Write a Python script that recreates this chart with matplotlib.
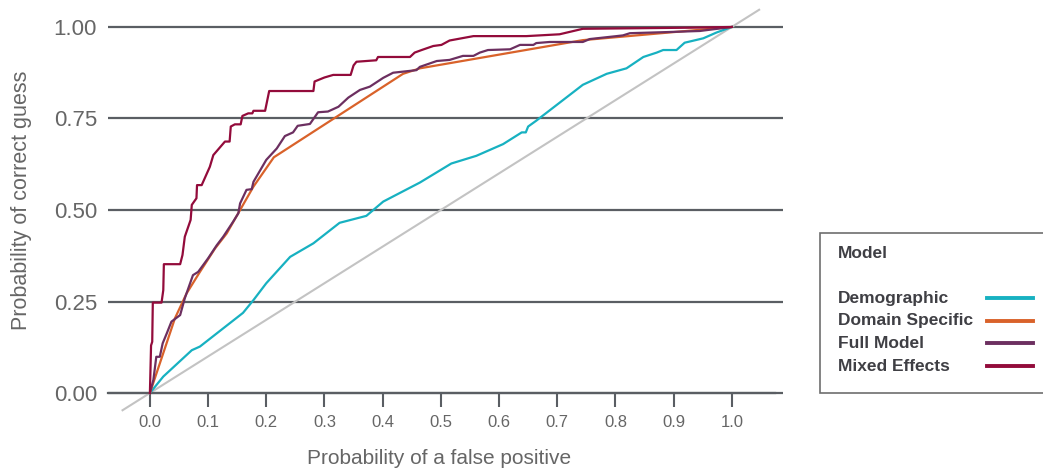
import matplotlib
matplotlib.use("Agg")
import matplotlib.pyplot as plt
from matplotlib.lines import Line2D
from matplotlib.patches import Rectangle

# ---- data ----
series_names = ["Demographic", "Domain Specific", "Full Model", "Mixed Effects"]
series_colors = ["#17B1C1", "#D9622A", "#6C2F60", "#930B3B"]

demo_x = [0, 0.023, 0.072, 0.086, 0.160, 0.178, 0.200, 0.241, 0.281, 0.326, 0.372, 0.401,
          0.464, 0.518, 0.561, 0.607, 0.639, 0.646, 0.650, 0.664, 0.744, 0.785, 0.819,
          0.848, 0.871, 0.882, 0.905, 0.919, 0.951, 0.974, 1.0]
demo_y = [0, 0.045, 0.117, 0.127, 0.219, 0.254, 0.300, 0.372, 0.409, 0.465, 0.484, 0.523,
          0.575, 0.627, 0.648, 0.680, 0.712, 0.712, 0.728, 0.744, 0.842, 0.872, 0.887,
          0.918, 0.930, 0.937, 0.937, 0.957, 0.969, 0.985, 1.0]

domain_x = [0, 0.043, 0.063, 0.086, 0.112, 0.132, 0.155, 0.178, 0.213, 0.435, 0.464, 0.744, 1.0]
domain_y = [0, 0.204, 0.272, 0.331, 0.395, 0.436, 0.500, 0.564, 0.644, 0.872, 0.887, 0.964, 1.0]

full_x = [0, 0.006, 0.011, 0.017, 0.022, 0.029, 0.037, 0.052, 0.060, 0.074, 0.083, 0.100,
          0.115, 0.126, 0.143, 0.152, 0.155, 0.166, 0.175, 0.178, 0.200, 0.218, 0.232,
          0.246, 0.254, 0.275, 0.289, 0.306, 0.324, 0.341, 0.361, 0.378, 0.401, 0.418,
          0.458, 0.464, 0.493, 0.515, 0.538, 0.556, 0.567, 0.581, 0.619, 0.636, 0.659,
          0.664, 0.687, 0.744, 0.756, 0.802, 0.813, 0.825, 0.888, 0.945, 1.0]
full_y = [0, 0.036, 0.099, 0.099, 0.136, 0.163, 0.195, 0.213, 0.259, 0.322, 0.331, 0.368,
          0.404, 0.427, 0.468, 0.491, 0.518, 0.555, 0.557, 0.577, 0.637, 0.668, 0.702,
          0.712, 0.730, 0.735, 0.767, 0.769, 0.782, 0.807, 0.828, 0.837, 0.861, 0.875,
          0.882, 0.891, 0.907, 0.910, 0.921, 0.921, 0.930, 0.937, 0.939, 0.951, 0.951,
          0.956, 0.959, 0.959, 0.967, 0.975, 0.977, 0.983, 0.986, 0.989, 1.0]

mixed_x = [0, 0.002, 0.004, 0.005, 0.020, 0.023, 0.024, 0.052, 0.056, 0.060, 0.070, 0.072,
           0.080, 0.081, 0.089, 0.103, 0.109, 0.129, 0.137, 0.139, 0.146, 0.156, 0.159,
           0.169, 0.176, 0.178, 0.198, 0.205, 0.281, 0.283, 0.300, 0.315, 0.345, 0.350,
           0.355, 0.389, 0.392, 0.447, 0.455, 0.467, 0.487, 0.501, 0.515, 0.556, 0.647,
           0.704, 0.744, 0.928, 1.0]
mixed_y = [0, 0.130, 0.140, 0.247, 0.247, 0.281, 0.352, 0.352, 0.377, 0.427, 0.473, 0.514,
           0.532, 0.568, 0.568, 0.618, 0.650, 0.687, 0.687, 0.728, 0.734, 0.734, 0.757,
           0.764, 0.764, 0.771, 0.771, 0.825, 0.825, 0.851, 0.862, 0.869, 0.869, 0.895,
           0.905, 0.909, 0.918, 0.918, 0.930, 0.937, 0.948, 0.951, 0.963, 0.975, 0.975,
           0.980, 0.995, 0.998, 1.0]

diag = [-0.047, 1.047]
x_ticks = [0.0, 0.1, 0.2, 0.3, 0.4, 0.5, 0.6, 0.7, 0.8, 0.9, 1.0]
x_tick_labels = ["0.0", "0.1", "0.2", "0.3", "0.4", "0.5", "0.6", "0.7", "0.8", "0.9", "1.0"]
y_ticks = [0.0, 0.25, 0.5, 0.75, 1.0]
y_tick_labels = ["0.00", "0.25", "0.50", "0.75", "1.00"]

# ---- figure ----
W, H = 1043, 474
fig = plt.figure(figsize=(W / 100, H / 100), dpi=100)
ax = fig.add_axes([108 / W, (H - 415) / H, (783 - 108) / W, (415 - 5) / H])
ax.set_xlim(-0.072, 1.088)
ax.set_ylim(-0.06, 1.06)

light = ["Liberation Sans", "DejaVu Sans"]
grid_c = "#5A5E63"
txt_c = "#666666"
wt = "normal"

# spine setup first (set_position resets tick properties)
for s in ["left", "right", "top"]:
    ax.spines[s].set_visible(False)
ax.spines["bottom"].set_position(("data", 0))
ax.spines["bottom"].set_color(grid_c)
ax.spines["bottom"].set_linewidth(1.6)
ax.spines["bottom"].set_bounds(-0.072, 1.075)

ax.set_yticks(y_ticks)
ax.set_yticklabels(y_tick_labels, family=light, fontsize=16, color=txt_c, weight=wt)
ax.set_xticks(x_ticks)
ax.set_xticklabels(x_tick_labels, family=light, fontsize=12, color=txt_c, weight=wt)
ax.tick_params(axis="y", length=0, pad=8)
ax.tick_params(axis="x", direction="out", length=10, width=1.5, color=grid_c, pad=6)
ax.yaxis.grid(True, color=grid_c, linewidth=1.6)
ax.set_axisbelow(True)

ax.plot(diag, diag, color="#C3C3C3", linewidth=1.5, zorder=2, clip_on=False)

series = [(demo_x, demo_y), (domain_x, domain_y), (full_x, full_y), (mixed_x, mixed_y)]
lines = []
for (xs, ys), name, c in zip(series, series_names, series_colors):
    ln, = ax.plot(xs, ys, color=c, linewidth=1.6, label=name, zorder=3, clip_on=False)
    lines.append(ln)

fig.text(22 / W, 1 - 200 / H, "Probability of correct guess", rotation=90, ha="center",
         va="center", family=light, fontsize=15.5, color=txt_c, weight=wt)
fig.text(439 / W, 1 - 459 / H, "Probability of a false positive", ha="center", va="center",
         family=light, fontsize=15, color=txt_c, weight=wt)

# ---- legend (manual, handles to the right) ----
fig.patches.append(Rectangle((820 / W, 1 - 393 / H), (1100 - 820) / W, (393 - 233) / H,
                             transform=fig.transFigure, facecolor="white",
                             edgecolor="#6E6E6E", linewidth=1.2, clip_on=False))
leg_font = ["Liberation Sans", "DejaVu Sans"]
leg_c = "#3F3F44"
fig.text(838 / W, 1 - 254 / H, "Model", ha="left", va="center", family=leg_font,
         fontsize=12.5, weight="bold", color=leg_c)
for i, ln in enumerate(lines):
    yy = 1 - (298 + i * 22.7) / H
    fig.text(838 / W, yy, ln.get_label(), ha="left", va="center", family=leg_font,
             fontsize=12.5, weight="bold", color=leg_c)
    fig.lines.append(Line2D([987 / W, 1033 / W], [yy, yy], transform=fig.transFigure,
                            color=ln.get_color(), linewidth=2.8))

fig.savefig("out.png", dpi=100)
